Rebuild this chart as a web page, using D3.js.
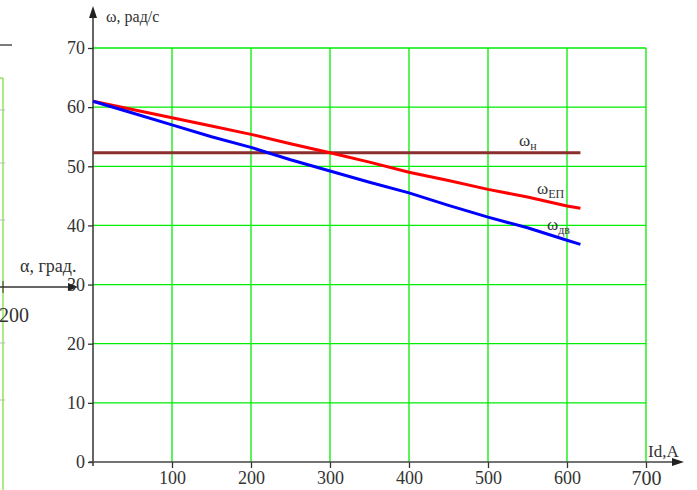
<!DOCTYPE html>
<html><head><meta charset="utf-8">
<script src="https://cdn.jsdelivr.net/npm/d3@7"></script>
<style>body{margin:0;background:#fff;} text{font-family:"Liberation Serif","Times New Roman",serif;fill:#333;}</style>
</head><body>
<svg id="c" width="697" height="490"></svg>
<script>
const currentA = [0, 50, 100, 150, 200, 250, 300, 350, 400, 450, 500, 550, 600, 617];
const omegaEP = [61.0, 59.6, 58.2, 56.8, 55.4, 53.8, 52.3, 50.7, 49.0, 47.6, 46.1, 44.8, 43.3, 42.9];
const omegaDV = [61.0, 59.0, 57.0, 55.0, 53.2, 51.1, 49.2, 47.3, 45.5, 43.4, 41.4, 39.6, 37.5, 36.8];
const omegaN = 52.3;
const omegaNRange = [0, 617];
const xTicks = [100, 200, 300, 400, 500, 600, 700];
const yTicks = [0, 10, 20, 30, 40, 50, 60, 70];

const svg = d3.select("#c");
const x = d3.scaleLinear().domain([0, 700]).range([93, 646]);
const y = d3.scaleLinear().domain([0, 70]).range([462, 48]);

// partial neighbouring chart on the left
const lg = svg.append("g");
lg.append("line").attr("x1", 0).attr("x2", 12).attr("y1", 45).attr("y2", 45).attr("stroke", "#333").attr("stroke-width", 1.3);
lg.append("line").attr("x1", 3).attr("x2", 3).attr("y1", 78).attr("y2", 490).attr("stroke", "#7fe040").attr("stroke-width", 1.3);
lg.append("line").attr("x1", 0).attr("x2", 3).attr("y1", 78).attr("y2", 78).attr("stroke", "#7fe040").attr("stroke-width", 1.3);
[110, 163, 220, 343, 400].forEach(v => lg.append("line").attr("x1", 0).attr("x2", 5).attr("y1", v).attr("y2", v).attr("stroke", "#bbb"));
lg.append("line").attr("x1", 0).attr("x2", 70).attr("y1", 287).attr("y2", 287).attr("stroke", "#333").attr("stroke-width", 1.3);
lg.append("path").attr("d", "M78,287 L68,283 L68,291 Z").attr("fill", "#222");
lg.append("line").attr("x1", 3).attr("x2", 3).attr("y1", 281).attr("y2", 293).attr("stroke", "#333");
lg.append("text").attr("x", 20).attr("y", 272).attr("font-size", 18).text("α, град.");
lg.append("text").attr("x", -1).attr("y", 322).attr("font-size", 20).text("200");

// grid
const grid = svg.append("g");
xTicks.forEach(t => grid.append("line").attr("x1", x(t)).attr("x2", x(t)).attr("y1", y(70)).attr("y2", y(0)).attr("stroke", "#00ee00").attr("stroke-width", 1.3));
yTicks.filter(t => t > 0).forEach(t => grid.append("line").attr("x1", x(0)).attr("x2", x(700)).attr("y1", y(t)).attr("y2", y(t)).attr("stroke", "#00ee00").attr("stroke-width", 1.3));

// axes
const yAxis = svg.append("g").attr("transform", `translate(${x(0)},0)`)
  .call(d3.axisLeft(y).tickValues(yTicks).tickSize(5).tickPadding(3).tickFormat(d3.format("d")));
yAxis.select(".domain").remove();
yAxis.selectAll(".tick line").attr("stroke", "#333").attr("stroke-width", 1.3);
yAxis.selectAll(".tick text").attr("font-size", 18).attr("font-family", "Liberation Serif").attr("fill", "#333");

const xAxis = svg.append("g").attr("transform", `translate(0,${y(0)})`)
  .call(d3.axisBottom(x).tickValues(xTicks).tickSize(6).tickPadding(3).tickFormat(d3.format("d")));
xAxis.select(".domain").remove();
xAxis.selectAll(".tick line").attr("stroke", "#333").attr("stroke-width", 1.3);
xAxis.selectAll(".tick text").attr("font-size", d => d === 700 ? 20 : 18).attr("font-family", "Liberation Serif").attr("fill", "#333");

svg.append("line").attr("x1", x(0)).attr("x2", x(0)).attr("y1", y(0) + 4).attr("y2", 14).attr("stroke", "#333").attr("stroke-width", 1.5);
svg.append("path").attr("d", `M${x(0)},6 L${x(0)-4},18 L${x(0)+4},18 Z`).attr("fill", "#222");
svg.append("line").attr("x1", x(0) - 4).attr("x2", 678).attr("y1", y(0)).attr("y2", y(0)).attr("stroke", "#444").attr("stroke-width", 1.5);
svg.append("path").attr("d", `M684,${y(0)} L672,${y(0)-4} L672,${y(0)+4} Z`).attr("fill", "#222");

svg.append("text").attr("x", 106).attr("y", 22).attr("font-size", 16).text("ω, рад/с");
svg.append("text").attr("x", 648).attr("y", 457).attr("font-size", 17).text("Id,A");

// series
const line = d3.line().x((d, i) => x(currentA[i])).y(d => y(d));
svg.append("line").attr("x1", x(omegaNRange[0])).attr("x2", x(omegaNRange[1])).attr("y1", y(omegaN)).attr("y2", y(omegaN)).attr("stroke", "#8b2e2e").attr("stroke-width", 3);
svg.append("path").datum(omegaEP).attr("d", line).attr("fill", "none").attr("stroke", "#ff0000").attr("stroke-width", 3);
svg.append("path").datum(omegaDV).attr("d", line).attr("fill", "none").attr("stroke", "#0000ff").attr("stroke-width", 3);

function lbl(xp, yp, sub) {
  const t = svg.append("text").attr("x", xp).attr("y", yp).attr("font-size", 17);
  t.append("tspan").text("ω");
  t.append("tspan").attr("font-size", 12).attr("dy", 4).text(sub);
}
lbl(519, 146, "н");
lbl(537, 194, "ЕП");
lbl(547, 230, "дв");
</script>
</body></html>
